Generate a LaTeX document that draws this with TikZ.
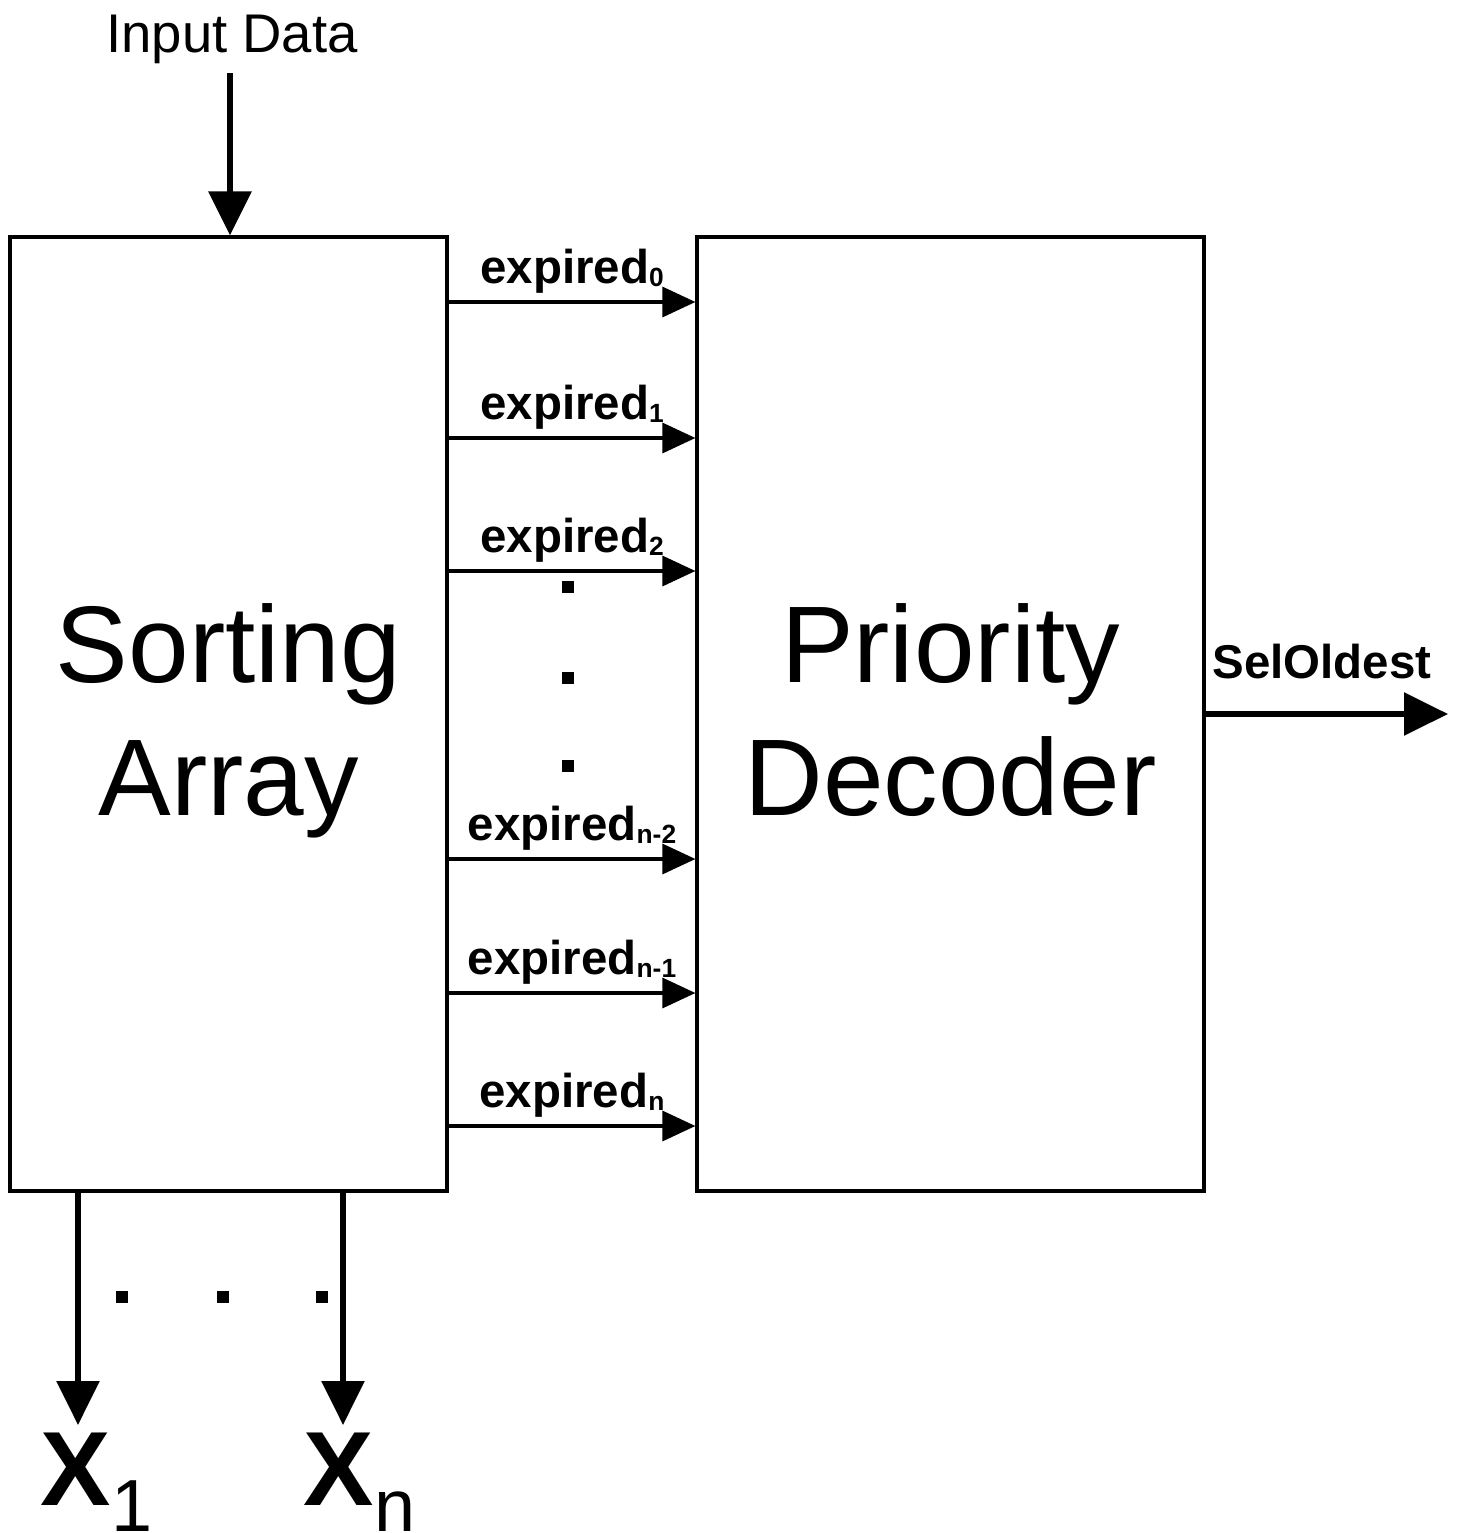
\documentclass[tikz,border=0pt]{standalone}
\usepackage{fontspec}
\setmainfont{Liberation Sans}
\usetikzlibrary{positioning}
\usetikzlibrary{arrows.meta}
\usetikzlibrary{calc}
\newcommand{\lowidx}[1]{\raisebox{-1pt}{\fontsize{7.5}{8}\selectfont #1}}
\newcommand{\bigidx}[1]{\raisebox{-7.4pt}{\mdseries\fontsize{21}{24}\selectfont #1}}
\tikzset{
	block/.style = {draw, line width=0.9pt, inner sep=0pt, minimum height=9.54cm},
	blocktext/.style = {inner sep=0pt, align=center, font=\fontsize{31}{38}\selectfont},
	sig/.style = {line width=0.9pt, -{Triangle[length=0.33cm, width=0.3cm]}},
	bigsig/.style = {line width=1.7pt, -{Triangle[length=0.44cm, width=0.42cm]}},
	siglabel/.style = {font=\fontsize{13.5}{16}\selectfont\bfseries, inner sep=0pt, anchor=base},
	outlabel/.style = {font=\fontsize{30}{36}\selectfont\bfseries, inner sep=0pt, anchor=base west},
	dotmark/.style = {fill, inner sep=0pt, minimum size=0.12cm}
}

\begin{document}
\begin{tikzpicture}
		\useasboundingbox (0,0) rectangle (14.58,-15.33);
		% blocks
		\node[block, minimum width=4.37cm] (sort) at (2.285,-7.14) {};
		\node[block, minimum width=5.07cm] (prio) at (9.505,-7.14) {};
		\node[blocktext] (sorttext) at ($(sort.center)+(0,-0.07)$) {Sorting\\Array};
		\node[blocktext] (priotext) at ($(prio.center)+(0,-0.07)$) {Priority\\Decoder\vphantom{y}};
		
		% input
		\node[font=\fontsize{15.5}{18}\selectfont, inner sep=0pt, anchor=base] (in) at (2.32,-0.53) {Input Data};
		\coordinate (intop) at ($(sort.north)+(0.015,1.62)$);
		\draw[bigsig] (intop) -- (intop |- sort.north);
		
		% expired lines
		\foreach \y/\k [count=\i] in {3.02/0, 4.38/1, 5.71/2, 8.59/n-2, 9.93/n-1, 11.26/n} {
			\coordinate (e\i) at (sort.east |- 0,-\y);
			\draw[sig] (e\i) -- (e\i -| prio.west);
			\node[siglabel] (lab\i) at ($(e\i)!0.5!(e\i -| prio.west)+(0,0.19)$) {expired\lowidx{\k}};
		}
		\foreach \y [count=\i] in {5.87, 6.78, 7.66}
			\node[dotmark] (vd\i) at (5.68,-\y) {};
		
		% output
		\coordinate (selout) at (14.48,-7.14);
		\draw[bigsig] (prio.east |- selout) -- (selout);
		\node[siglabel] (sel) at (13.22,-6.78) {SelOldest};
		
		% sorted outputs
		\coordinate (xa) at (0.78,-14.25);
		\coordinate (xb) at (3.43,-14.25);
		\draw[bigsig] (xa |- sort.south) -- (xa);
		\draw[bigsig] (xb |- sort.south) -- (xb);
		\node[outlabel] (xal) at (0.40,-15.05) {X\bigidx{1}};
		\node[outlabel] (xbl) at (3.03,-15.05) {X\bigidx{n}};
		\foreach \x [count=\i] in {1.22, 2.23, 3.22}
			\node[dotmark] (hd\i) at (\x,-12.97) {};
	\end{tikzpicture}
\end{document}
